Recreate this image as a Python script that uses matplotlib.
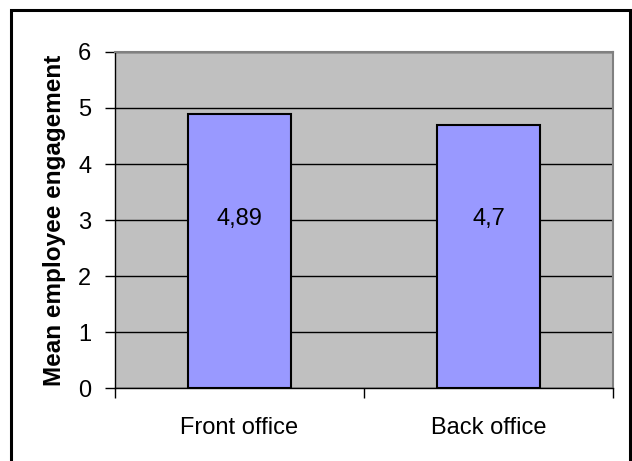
import matplotlib
matplotlib.use("Agg")
import matplotlib.pyplot as plt
from matplotlib.patches import Rectangle

plt.rcParams['font.family'] = ['Liberation Sans', 'DejaVu Sans']

categories = ["Front office", "Back office"]
values = [4.89, 4.7]
value_labels = ["4,89", "4,7"]
y_ticks = [0, 1, 2, 3, 4, 5, 6]

W, H = 632, 461
fig = plt.figure(figsize=(W / 100, H / 100), dpi=100)
fig.patch.set_facecolor("white")

# outer chart frame
fig.add_artist(Rectangle((11 / W, -0.01), (630 - 11) / W, (H - 10) / H + 0.01,
                         transform=fig.transFigure, fill=False,
                         edgecolor="black", linewidth=2.2))

ax = fig.add_axes([115 / W, 1 - 388 / H, (613 - 115) / W, (388 - 52) / H])
ax.set_facecolor("#C0C0C0")

x = [0.5, 1.5]
ax.bar(x, values, width=0.41, color="#9999FF", edgecolor="black",
       linewidth=1.5, zorder=3)
for xi, lab in zip(x, value_labels):
    ax.text(xi, 3.02, lab, ha="center", va="center", fontsize=17, zorder=4)

ax.set_xlim(0, 2)
ax.set_ylim(0, 6)
ax.set_yticks(y_ticks)
ax.set_yticklabels([str(t) for t in y_ticks], fontsize=17)
ax.yaxis.grid(True, color="black", linewidth=1.0, zorder=1)
ax.set_axisbelow(True)

ax.set_xticks([0, 1, 2])
ax.set_xticklabels([])
ax.set_xticks(x, minor=True)
ax.set_xticklabels(categories, minor=True, fontsize=17)
ax.tick_params(axis="x", which="major", length=7, width=1, direction="out", color="black")
ax.tick_params(axis="x", which="minor", length=0, pad=21)
ax.tick_params(axis="y", length=7, width=1, direction="out", pad=10)

for side in ["top", "right"]:
    ax.spines[side].set_color("#808080")
    ax.spines[side].set_linewidth(1.5)
for side in ["left", "bottom"]:
    ax.spines[side].set_color("black")
    ax.spines[side].set_linewidth(1.0)

ax.set_ylabel("Mean employee engagement", fontsize=17.5, fontweight="bold", labelpad=9)

fig.savefig("out.png", dpi=100)
